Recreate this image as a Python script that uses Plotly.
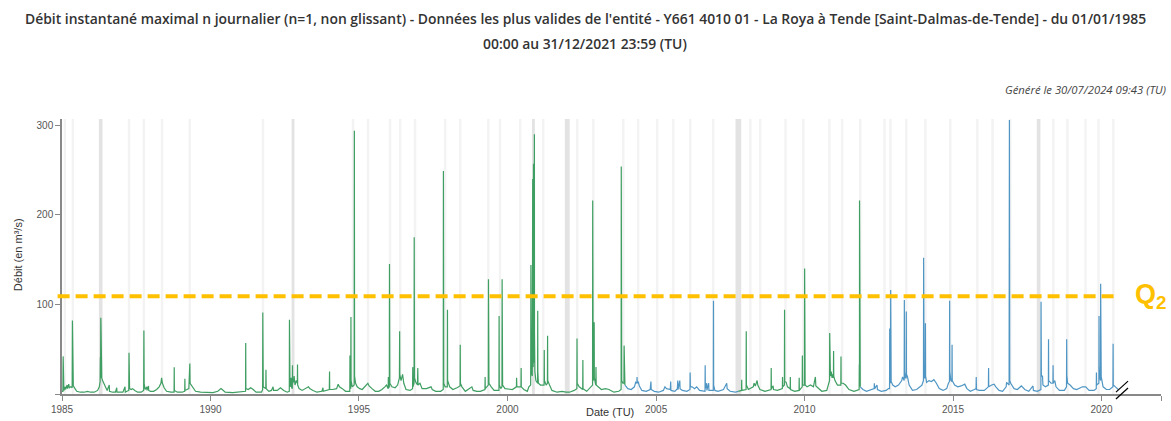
import pandas as pd
import plotly.graph_objects as go

# Débit instantané max journalier - La Roya à Tende (m3/s), lu sur le graphique
# segments verts (données validées) / bleus (pré-validées)
green_1985_2003 = [
    ("1985-01-01", 3), ("1985-01-12", 3), ("1985-01-15", 42), ("1985-01-17", 8), ("1985-01-24", 4),
    ("1985-02-10", 8), ("1985-02-14", 5), ("1985-03-05", 10), ("1985-03-10", 6), ("1985-03-25", 11),
    ("1985-04-01", 7), ("1985-04-20", 8), ("1985-05-06", 7), ("1985-05-09", 82), ("1985-05-11", 20),
    ("1985-05-20", 9), ("1985-06-10", 6), ("1985-07-01", 3), ("1985-08-15", 2), ("1985-10-01", 2),
    ("1985-11-10", 3), ("1985-12-20", 2),
    ("1986-02-01", 2), ("1986-03-15", 4), ("1986-04-05", 8), ("1986-04-15", 14), ("1986-04-18", 41),
    ("1986-04-20", 18), ("1986-04-23", 85), ("1986-04-25", 80), ("1986-04-27", 30), ("1986-05-05", 18),
    ("1986-05-15", 15), ("1986-06-01", 12), ("1986-06-20", 8), ("1986-07-10", 4), ("1986-08-05", 10),
    ("1986-08-08", 3), ("1986-09-15", 2), ("1986-10-20", 2), ("1986-11-05", 7), ("1986-11-08", 2),
    ("1986-12-20", 2),
    ("1987-01-20", 2), ("1987-02-15", 8), ("1987-02-18", 2), ("1987-03-10", 3), ("1987-04-02", 4),
    ("1987-04-05", 46), ("1987-04-06", 22), ("1987-04-12", 6), ("1987-05-01", 5), ("1987-05-20", 6),
    ("1987-06-15", 4), ("1987-07-20", 2), ("1987-09-01", 2), ("1987-10-02", 4), ("1987-10-05", 71),
    ("1987-10-06", 52), ("1987-10-08", 12), ("1987-10-20", 5), ("1987-11-10", 8), ("1987-11-12", 4),
    ("1987-12-01", 9), ("1987-12-03", 4), ("1987-12-25", 3),
    ("1988-02-01", 3), ("1988-03-10", 5), ("1988-04-10", 8), ("1988-05-01", 12), ("1988-05-10", 18),
    ("1988-05-20", 12), ("1988-06-10", 7), ("1988-07-10", 3), ("1988-09-01", 2), ("1988-10-10", 2),
    ("1988-10-12", 30), ("1988-10-14", 4), ("1988-11-20", 2),
    ("1989-01-15", 2), ("1989-02-18", 3), ("1989-02-20", 17), ("1989-02-22", 4), ("1989-04-10", 6),
    ("1989-04-20", 30), ("1989-04-22", 34), ("1989-04-25", 12), ("1989-05-10", 10), ("1989-06-01", 6),
    ("1989-07-01", 3), ("1989-09-01", 2), ("1989-12-01", 1.5),
    ("1990-02-01", 1.5), ("1990-04-01", 3), ("1990-05-10", 6), ("1990-05-25", 5), ("1990-07-01", 2),
    ("1990-10-01", 1.5), ("1990-12-15", 2),
    ("1991-02-01", 2), ("1991-03-08", 3), ("1991-03-10", 57), ("1991-03-12", 6), ("1991-04-10", 5),
    ("1991-05-10", 7), ("1991-06-10", 5), ("1991-07-15", 2), ("1991-09-20", 2), ("1991-10-04", 5),
    ("1991-10-06", 91), ("1991-10-07", 30), ("1991-10-12", 8), ("1991-11-12", 6), ("1991-11-14", 27),
    ("1991-11-17", 6), ("1991-12-20", 3),
    ("1992-01-20", 4), ("1992-02-10", 8), ("1992-02-15", 4), ("1992-04-01", 4), ("1992-05-10", 7),
    ("1992-06-20", 4), ("1992-08-01", 2), ("1992-08-27", 3), ("1992-08-29", 83), ("1992-08-30", 20),
    ("1992-09-05", 8), ("1992-09-20", 18), ("1992-09-22", 8), ("1992-10-03", 6), ("1992-10-05", 32),
    ("1992-10-07", 12), ("1992-10-20", 15), ("1992-10-25", 20), ("1992-11-05", 10), ("1992-11-20", 15),
    ("1992-12-04", 12), ("1992-12-06", 33), ("1992-12-08", 10), ("1992-12-25", 6),
    ("1993-02-01", 4), ("1993-04-20", 8), ("1993-05-05", 6), ("1993-06-15", 4), ("1993-08-01", 2),
    ("1993-10-01", 3), ("1993-10-15", 7), ("1993-10-18", 3), ("1993-12-01", 4),
    ("1994-01-01", 5), ("1994-01-04", 25), ("1994-01-06", 5), ("1994-02-10", 5), ("1994-04-01", 6),
    ("1994-04-20", 11), ("1994-05-05", 8), ("1994-06-10", 6), ("1994-07-20", 3), ("1994-09-10", 3),
    ("1994-09-12", 43), ("1994-09-14", 8), ("1994-09-22", 6), ("1994-09-24", 86), ("1994-09-26", 15),
    ("1994-10-10", 8), ("1994-11-03", 10), ("1994-11-05", 294), ("1994-11-06", 60), ("1994-11-08", 20),
    ("1994-11-20", 12), ("1994-12-10", 8),
    ("1995-01-10", 6), ("1995-02-10", 5), ("1995-04-20", 12), ("1995-05-05", 9), ("1995-06-10", 6),
    ("1995-07-20", 3), ("1995-09-01", 3), ("1995-10-10", 5), ("1995-11-15", 8), ("1995-12-05", 10),
    ("1995-12-26", 6), ("1995-12-28", 19), ("1995-12-30", 7),
    ("1996-01-09", 8), ("1996-01-11", 145), ("1996-01-12", 40), ("1996-01-15", 12), ("1996-02-10", 8),
    ("1996-03-20", 7), ("1996-04-20", 10), ("1996-05-12", 18), ("1996-05-15", 70), ("1996-05-17", 22),
    ("1996-06-01", 15), ("1996-06-20", 22), ("1996-07-05", 12), ("1996-08-01", 5), ("1996-09-20", 4),
    ("1996-10-21", 6), ("1996-10-23", 30), ("1996-10-26", 8), ("1996-11-08", 12), ("1996-11-10", 175),
    ("1996-11-11", 40), ("1996-11-14", 18), ("1996-11-30", 13), ("1996-12-20", 10), ("1996-12-24", 29),
    ("1996-12-27", 10),
    ("1997-01-20", 12), ("1997-02-15", 6), ("1997-04-10", 6), ("1997-06-05", 8), ("1997-06-20", 5),
    ("1997-08-01", 3), ("1997-10-01", 3), ("1997-11-02", 5), ("1997-11-04", 249), ("1997-11-05", 50),
    ("1997-11-08", 12), ("1997-11-25", 8), ("1997-12-22", 8), ("1997-12-24", 94), ("1997-12-26", 15),
    ("1998-01-20", 8), ("1998-03-01", 5), ("1998-04-20", 7), ("1998-05-28", 9), ("1998-05-30", 55),
    ("1998-06-01", 12), ("1998-06-20", 8), ("1998-08-01", 3), ("1998-10-20", 8), ("1998-11-05", 4),
    ("1998-12-20", 3),
    ("1999-02-01", 3), ("1999-03-30", 5), ("1999-04-01", 19), ("1999-04-03", 6), ("1999-05-10", 10),
    ("1999-05-12", 128), ("1999-05-13", 30), ("1999-05-18", 12), ("1999-06-15", 8), ("1999-07-20", 4),
    ("1999-09-18", 4), ("1999-09-20", 87), ("1999-09-22", 10), ("1999-10-10", 6), ("1999-10-25", 8),
    ("1999-10-27", 128), ("1999-10-28", 30), ("1999-11-02", 10), ("1999-12-01", 6),
    ("2000-01-20", 5), ("2000-03-01", 5), ("2000-04-20", 8), ("2000-04-22", 18), ("2000-04-25", 8),
    ("2000-06-15", 8), ("2000-06-17", 29), ("2000-06-19", 8), ("2000-07-20", 5), ("2000-09-01", 3),
    ("2000-09-20", 8), ("2000-10-12", 10), ("2000-10-15", 144), ("2000-10-16", 60), ("2000-10-20", 25),
    ("2000-11-01", 20), ("2000-11-06", 240), ("2000-11-07", 60), ("2000-11-12", 30), ("2000-11-16", 257),
    ("2000-11-17", 80), ("2000-11-22", 35), ("2000-11-27", 290), ("2000-11-28", 70), ("2000-12-03", 25),
    ("2000-12-15", 15),
    ("2001-01-05", 12), ("2001-01-07", 93), ("2001-01-08", 25), ("2001-01-15", 12), ("2001-02-10", 10),
    ("2001-03-26", 10), ("2001-03-28", 49), ("2001-03-30", 15), ("2001-04-20", 10), ("2001-05-06", 12),
    ("2001-05-08", 65), ("2001-05-10", 15), ("2001-06-01", 10), ("2001-07-01", 4), ("2001-09-01", 2),
    ("2001-11-01", 3), ("2001-12-20", 2),
    ("2002-02-01", 2), ("2002-04-01", 4), ("2002-05-03", 6), ("2002-05-05", 62), ("2002-05-07", 12),
    ("2002-06-01", 8), ("2002-07-14", 5), ("2002-07-16", 38), ("2002-07-18", 6), ("2002-09-01", 3),
    ("2002-10-20", 8), ("2002-11-12", 10), ("2002-11-14", 216), ("2002-11-15", 50), ("2002-11-20", 15),
    ("2002-11-30", 20), ("2002-12-02", 80), ("2002-12-04", 18), ("2002-12-22", 10), ("2002-12-24", 30),
    ("2002-12-27", 10),
    ("2003-01-20", 8), ("2003-03-01", 5), ("2003-04-20", 6), ("2003-06-01", 5), ("2003-08-01", 2),
    ("2003-10-01", 3), ("2003-10-29", 5), ("2003-10-31", 254), ("2003-11-01", 50), ("2003-11-05", 15),
    ("2003-11-20", 12), ("2003-12-03", 12), ("2003-12-05", 54), ("2003-12-07", 14), ("2003-12-15", 10),
]

blue_2003_2007 = [
    ("2003-12-15", 10), ("2004-01-20", 6), ("2004-03-01", 5), ("2004-04-10", 8), ("2004-04-25", 13),
    ("2004-05-10", 12), ("2004-05-12", 19), ("2004-05-15", 12), ("2004-05-25", 14), ("2004-06-10", 9),
    ("2004-07-10", 4), ("2004-09-01", 3), ("2004-10-20", 5), ("2004-10-30", 14), ("2004-11-02", 5),
    ("2004-12-10", 3), ("2005-02-01", 2), ("2005-04-01", 4), ("2005-04-20", 8), ("2005-05-10", 6),
    ("2005-06-25", 5), ("2005-06-30", 14), ("2005-07-03", 4), ("2005-08-20", 3), ("2005-09-20", 6),
    ("2005-09-25", 15), ("2005-09-28", 5), ("2005-10-20", 15), ("2005-10-23", 6), ("2005-11-20", 4),
    ("2006-01-15", 3), ("2006-02-22", 5), ("2006-02-24", 24), ("2006-02-27", 8), ("2006-03-20", 8),
    ("2006-04-20", 6), ("2006-05-15", 8), ("2006-06-20", 4), ("2006-08-26", 3), ("2006-08-28", 32),
    ("2006-08-30", 6), ("2006-09-15", 12), ("2006-09-18", 4), ("2006-10-10", 12), ("2006-10-13", 4),
    ("2006-12-06", 4), ("2006-12-08", 104), ("2006-12-10", 10), ("2006-12-25", 4), ("2007-02-01", 3),
    ("2007-04-10", 5), ("2007-05-20", 12), ("2007-05-25", 6), ("2007-07-01", 3), ("2007-09-01", 2),
    ("2007-10-08", 3),
]

green_2007_2011 = [
    ("2007-10-08", 3), ("2007-11-18", 4), ("2007-11-20", 16), ("2007-11-22", 4), ("2008-01-13", 5),
    ("2008-01-15", 70), ("2008-01-17", 10), ("2008-02-10", 5), ("2008-04-10", 8), ("2008-04-20", 12),
    ("2008-05-05", 9), ("2008-05-28", 15), ("2008-06-05", 10), ("2008-07-01", 5), ("2008-09-01", 3),
    ("2008-11-15", 5), ("2008-11-17", 29), ("2008-11-19", 6), ("2008-12-10", 9), ("2008-12-15", 5),
    ("2009-02-01", 4), ("2009-04-03", 6), ("2009-04-05", 19), ("2009-04-08", 8), ("2009-04-28", 10),
    ("2009-04-30", 94), ("2009-05-02", 14), ("2009-05-20", 13), ("2009-06-05", 8), ("2009-07-08", 6),
    ("2009-07-10", 19), ("2009-07-12", 5), ("2009-09-01", 3), ("2009-10-25", 4), ("2009-10-27", 18),
    ("2009-10-29", 4), ("2009-12-03", 8), ("2009-12-05", 43), ("2009-12-07", 10), ("2009-12-30", 10),
    ("2010-01-02", 140), ("2010-01-03", 30), ("2010-01-08", 10), ("2010-02-01", 8), ("2010-03-15", 10),
    ("2010-04-20", 8), ("2010-05-14", 19), ("2010-05-20", 9), ("2010-06-20", 6), ("2010-08-01", 3),
    ("2010-10-01", 4), ("2010-10-20", 12), ("2010-11-04", 15), ("2010-11-06", 68), ("2010-11-08", 22),
    ("2010-11-15", 20), ("2010-11-25", 25), ("2010-12-05", 18), ("2010-12-15", 22), ("2010-12-22", 18),
    ("2010-12-24", 48), ("2010-12-26", 20), ("2011-01-10", 15), ("2011-02-10", 10), ("2011-03-23", 10),
    ("2011-03-25", 42), ("2011-03-27", 12), ("2011-04-20", 12), ("2011-05-20", 10), ("2011-07-01", 5),
    ("2011-09-01", 3), ("2011-11-03", 5), ("2011-11-05", 33), ("2011-11-07", 12), ("2011-11-08", 216),
    ("2011-11-09", 40), ("2011-11-13", 12), ("2011-11-17", 8),
]

blue_2011_2020 = [
    ("2011-11-17", 8), ("2011-12-20", 5), ("2012-02-01", 3), ("2012-04-01", 5), ("2012-05-06", 6),
    ("2012-05-08", 12), ("2012-05-12", 6), ("2012-06-10", 10), ("2012-06-15", 5), ("2012-08-01", 3),
    ("2012-10-01", 4), ("2012-10-28", 6), ("2012-11-11", 6), ("2012-11-13", 73), ("2012-11-15", 15),
    ("2012-11-23", 12), ("2012-11-25", 116), ("2012-11-26", 30), ("2012-12-01", 14), ("2012-12-20", 10),
    ("2013-01-20", 8), ("2013-03-01", 10), ("2013-04-10", 15), ("2013-04-20", 19), ("2013-05-10", 15),
    ("2013-05-12", 105), ("2013-05-14", 25), ("2013-05-25", 18), ("2013-06-03", 18), ("2013-06-05", 92),
    ("2013-06-07", 22), ("2013-06-20", 19), ("2013-07-10", 10), ("2013-08-20", 4), ("2013-10-10", 5),
    ("2013-11-20", 8), ("2013-12-15", 10), ("2014-01-02", 15), ("2014-01-04", 152), ("2014-01-05", 40),
    ("2014-01-10", 18), ("2014-01-24", 18), ("2014-01-26", 79), ("2014-01-28", 20), ("2014-02-10", 13),
    ("2014-03-10", 15), ("2014-04-10", 14), ("2014-05-10", 16), ("2014-06-10", 12), ("2014-07-15", 6),
    ("2014-09-01", 4), ("2014-10-15", 6), ("2014-11-05", 12), ("2014-11-18", 14), ("2014-11-20", 104),
    ("2014-11-22", 25), ("2014-12-05", 15), ("2014-12-18", 14), ("2014-12-20", 55), ("2014-12-22", 15),
    ("2015-01-20", 10), ("2015-03-01", 8), ("2015-04-10", 9), ("2015-05-25", 11), ("2015-06-20", 6),
    ("2015-08-01", 3), ("2015-09-20", 5), ("2015-10-11", 6), ("2015-10-13", 19), ("2015-10-16", 5),
    ("2015-11-20", 4), ("2016-01-20", 4), ("2016-03-10", 8), ("2016-03-13", 29), ("2016-03-15", 8),
    ("2016-04-20", 10), ("2016-05-20", 11), ("2016-06-10", 8), ("2016-07-20", 4), ("2016-09-01", 3),
    ("2016-10-15", 8), ("2016-10-20", 13), ("2016-11-20", 10), ("2016-11-24", 306), ("2016-11-25", 60),
    ("2016-11-28", 15), ("2016-12-10", 12), ("2017-01-20", 6), ("2017-03-01", 5), ("2017-04-20", 9),
    ("2017-06-01", 5), ("2017-07-20", 3), ("2017-09-10", 9), ("2017-09-15", 4), ("2017-11-01", 3),
    ("2017-12-16", 5), ("2017-12-18", 103), ("2017-12-19", 30), ("2017-12-22", 20), ("2018-01-05", 20),
    ("2018-01-10", 10), ("2018-02-10", 8), ("2018-03-18", 10), ("2018-03-20", 61), ("2018-03-22", 15),
    ("2018-04-20", 12), ("2018-05-13", 12), ("2018-05-15", 32), ("2018-05-17", 12), ("2018-06-05", 15),
    ("2018-06-20", 8), ("2018-08-01", 4), ("2018-10-01", 4), ("2018-10-27", 8), ("2018-10-29", 61),
    ("2018-10-31", 21), ("2018-11-10", 12), ("2018-12-10", 10), ("2019-01-20", 6), ("2019-03-01", 5),
    ("2019-05-10", 8), ("2019-06-20", 8), ("2019-08-01", 4), ("2019-10-01", 4), ("2019-10-28", 6),
    ("2019-10-30", 24), ("2019-11-01", 10), ("2019-11-29", 12), ("2019-12-01", 87), ("2019-12-02", 30),
    ("2019-12-10", 19), ("2019-12-19", 15), ("2019-12-21", 123), ("2019-12-22", 30), ("2019-12-28", 19),
    ("2020-01-20", 8), ("2020-03-01", 5), ("2020-04-10", 5), ("2020-05-20", 8), ("2020-05-22", 56),
    ("2020-05-24", 10), ("2020-06-20", 8), ("2020-07-25", 5),
]

# bandes grisées (centre, largeur en jours, foncée ?)
band_centers = [
    "1985-02-05", "1985-05-15", "1986-04-22", "1987-04-05", "1987-10-05", "1988-05-15", "1989-04-22",
    "1991-10-08", "1992-10-12", "1994-10-20", "1995-04-22", "1996-01-18", "1996-05-22", "1996-11-20",
    "1997-11-25", "1998-05-30", "1999-05-10", "1999-10-01", "2000-06-05", "2000-11-15", "2001-03-15",
    "2002-01-05", "2002-05-08", "2002-11-22", "2003-11-25", "2004-05-25", "2005-01-15", "2005-08-01",
    "2006-02-25", "2006-12-05", "2007-10-10", "2008-03-05", "2008-07-05", "2009-05-12", "2009-12-17",
    "2010-11-03", "2011-04-08", "2011-11-17", "2012-09-10", "2012-11-22", "2013-06-05", "2014-01-26",
    "2014-11-28", "2015-10-27", "2016-05-01", "2016-12-05", "2017-11-18", "2018-05-18", "2018-11-07",
    "2019-06-18", "2019-11-25", "2020-05-25",
]
band_days = [30, 30, 45, 30, 30, 30, 30, 30, 35, 30, 30, 30, 30, 30, 30, 30, 30, 30, 30, 35, 30,
             60, 30, 30, 30, 30, 30, 30, 30, 30, 70, 30, 30, 30, 30, 30, 30, 30, 30, 30, 30, 30,
             30, 30, 30, 30, 45, 30, 30, 30, 30, 30]
band_dark = {"1986-04-22", "1992-10-12", "2000-11-15", "2002-01-05", "2007-10-10", "2017-11-18"}

Q2 = 109
x_ticks = ["1985-01-01", "1990-01-01", "1995-01-01", "2000-01-01", "2005-01-01",
           "2010-01-01", "2015-01-01", "2020-01-01", "2022-01-01"]
x_ticktext = ["1985", "1990", "1995", "2000", "2005", "2010", "2015", "2020", ""]
y_ticks = [0, 100, 200, 300]
y_ticktext = ["", "100", "200", "300"]

GREEN = "#3f9e62"
BLUE = "#5096c4"
GOLD = "#FFC000"


def join(*segments):
    xs, ys = [], []
    for seg in segments:
        xs += [d for d, _ in seg] + [None]
        ys += [v for _, v in seg] + [None]
    return xs, ys


fig = go.Figure()

gx, gy = join(green_1985_2003, green_2007_2011)
bx, by = join(blue_2003_2007, blue_2011_2020)
fig.add_trace(go.Scatter(x=gx, y=gy, mode="lines", line=dict(color=GREEN, width=1.2),
                         connectgaps=False, hoverinfo="skip"))
fig.add_trace(go.Scatter(x=bx, y=by, mode="lines", line=dict(color=BLUE, width=1.2),
                         connectgaps=False, hoverinfo="skip"))

# bandes
for c, w in zip(band_centers, band_days):
    mid = pd.Timestamp(c)
    half = pd.Timedelta(days=w / 2)
    fig.add_shape(type="rect", xref="x", yref="paper", x0=mid - half, x1=mid + half, y0=0, y1=1,
                  fillcolor="#e3e3e3" if c in band_dark else "#f3f3f3", line_width=0, layer="below")

# Q2
fig.add_shape(type="line", xref="paper", yref="y", x0=-0.004, x1=0.96, y0=Q2, y1=Q2,
              line=dict(color=GOLD, width=4, dash="12px,6px"))
fig.add_annotation(xref="paper", yref="y", x=0.9745, y=Q2, xanchor="left", yanchor="middle",
                   text="<b>Q<sub>2</sub></b>", showarrow=False,
                   font=dict(family="Liberation Sans, Arial", size=27, color=GOLD))

# coupure //
for y0, y1 in [(0.007, 0.047), (-0.018, 0.022)]:
    fig.add_shape(type="line", xref="paper", yref="paper", x0=0.9590, x1=0.9700, y0=y0, y1=y1,
                  line=dict(color="black", width=1.2))

title_font = dict(family="Open Sans, Noto Sans", size=13.9, color="#333", weight=600)
fig.add_annotation(xref="paper", yref="paper", x=0.476, y=1.367, yanchor="middle", showarrow=False,
                   text="Débit instantané maximal n journalier (n=1, non glissant) - Données les plus valides de l'entité - Y661 4010 01 - La Roya à Tende [Saint-Dalmas-de-Tende] - du 01/01/1985",
                   font=title_font)
fig.add_annotation(xref="paper", yref="paper", x=0.476, y=1.276, yanchor="middle", showarrow=False,
                   text="00:00 au 31/12/2021 23:59 (TU)", font=title_font)
fig.add_annotation(xref="paper", yref="paper", x=1.0064, y=1.109, xanchor="right", yanchor="middle",
                   showarrow=False, text="<i>Généré le 30/07/2024 09:43 (TU)</i>",
                   font=dict(family="Open Sans, Noto Sans", size=11.3, color="#444"))
fig.add_annotation(xref="paper", yref="paper", x=-0.04, y=0.505, xanchor="center", yanchor="middle",
                   textangle=-90, showarrow=False, text="Débit (en m³/s)",
                   font=dict(family="Liberation Sans, Arial", size=11, color="#333"))
fig.add_annotation(xref="paper", yref="paper", x=0.4986, y=-0.096, xanchor="center", yanchor="bottom",
                   showarrow=False, text="Date (TU)",
                   font=dict(family="Liberation Sans, Arial", size=11, color="#333"))

fig.update_layout(
    width=1171, height=421, autosize=False,
    margin=dict(l=62, r=10, t=119, b=27),
    plot_bgcolor="white", paper_bgcolor="white",
    showlegend=False,
    font=dict(family="Liberation Sans, Arial", size=10, color="#555"),
)
fig.update_xaxes(type="date", range=["1985-01-01", "2022-01-01"], tickvals=x_ticks, ticktext=x_ticktext,
                 ticks="outside", ticklen=5, tickcolor="#888", showline=True, linecolor="#888",
                 linewidth=1.5, showgrid=False, zeroline=False, automargin=False,
                 tickfont=dict(size=10, color="#555"))
fig.update_yaxes(range=[0, 307], tickvals=y_ticks, ticktext=y_ticktext, ticks="outside", ticklen=5,
                 tickcolor="#888", showline=True, linecolor="#888", linewidth=1.5, showgrid=False,
                 zeroline=False, automargin=False, tickfont=dict(size=10, color="#555"))

fig.write_html("out.html", config={"displayModeBar": False},
               post_script="document.body.style.margin='0';document.body.style.overflow='hidden';")
